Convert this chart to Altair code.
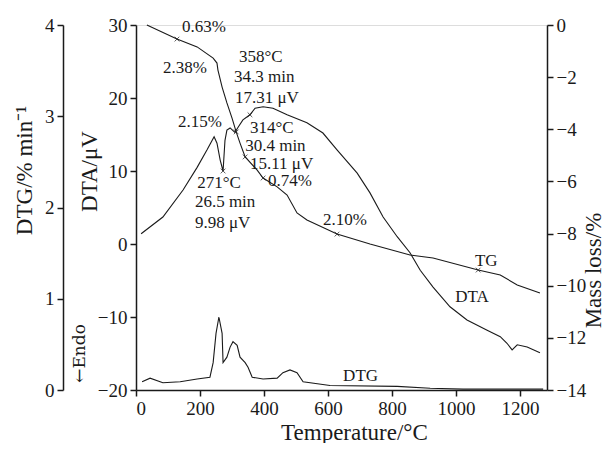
import altair as alt
import pandas as pd

# ---- data ----
tg_T = [34, 128, 191, 241, 253, 256, 269, 284, 300, 313, 325, 341, 378, 397, 441, 472, 503, 534, 628, 731, 856, 928, 1069, 1138, 1191, 1262]
tg_v = [0.0, -0.54, -0.84, -1.27, -1.46, -1.73, -2.38, -2.99, -3.57, -4.10, -4.53, -5.06, -5.56, -5.87, -6.21, -6.52, -7.21, -7.48, -8.02, -8.40, -8.82, -8.94, -9.40, -9.59, -9.97, -10.28]

dta_T = [16, 84, 147, 191, 222, 244, 253, 263, 272, 278, 284, 294, 309, 319, 334, 356, 372, 397, 428, 472, 534, 584, 628, 691, 731, 772, 816, 856, 888, 928, 981, 1034, 1097, 1138, 1159, 1175, 1191, 1222, 1262]
dta_v = [1.4, 3.7, 7.4, 10.5, 12.9, 14.7, 13.8, 11.5, 10.0, 14.2, 15.6, 15.9, 15.3, 16.0, 17.0, 17.7, 18.6, 18.8, 18.6, 17.7, 16.6, 15.2, 12.9, 9.7, 7.0, 3.7, 1.0, -1.2, -3.6, -5.9, -8.6, -10.4, -11.8, -12.7, -13.6, -14.5, -13.8, -14.1, -14.9]

dtg_T = [19, 44, 84, 138, 191, 231, 241, 250, 259, 269, 272, 284, 294, 303, 316, 325, 341, 350, 363, 397, 441, 459, 481, 503, 522, 606, 816, 919, 1022, 1272]
dtg_v = [0.09, 0.13, 0.08, 0.09, 0.12, 0.14, 0.30, 0.62, 0.80, 0.62, 0.30, 0.36, 0.47, 0.53, 0.49, 0.36, 0.30, 0.25, 0.14, 0.12, 0.13, 0.19, 0.22, 0.19, 0.09, 0.05, 0.04, 0.02, 0.01, 0.01]

tg_mark_T = [128, 313, 341, 397, 628, 1069]
tg_mark_v = [-0.54, -4.10, -5.06, -5.87, -8.02, -9.40]
dta_mark_T = [272, 356]
dta_mark_v = [10.0, 17.7]

ann_text = ["0.63%", "2.38%", "358°C", "34.3 min", "17.31 μV", "2.15%", "314°C", "30.4 min",
            "15.11 μV", "0.74%", "271°C", "26.5 min", "9.98 μV", "2.10%", "TG", "DTA", "DTG"]
ann_T = [144, 84, 322, 306, 309, 131, 356, 341, 356, 412, 191, 184, 184, 584, 1059, 997, 647]
ann_v = [29.7, 24.1, 25.6, 22.9, 20.0, 16.7, 15.9, 13.4, 11.0, 8.6, 8.4, 5.8, 2.9, 3.3, -2.3, -7.3, -18.1]

endo_text = ["←Endo"]
endo_T = [-175]
endo_v = [-15.0]

FONT = "Liberation Serif"
INK = "#1a1a1a"

tg_df = pd.DataFrame({"T": tg_T, "v": tg_v})
dta_df = pd.DataFrame({"T": dta_T, "v": dta_v})
dtg_df = pd.DataFrame({"T": dtg_T, "v": dtg_v})
tgm_df = pd.DataFrame({"T": tg_mark_T, "v": tg_mark_v})
dtam_df = pd.DataFrame({"T": dta_mark_T, "v": dta_mark_v})
ann_df = pd.DataFrame({"T": ann_T, "v": ann_v, "t": ann_text})
endo_df = pd.DataFrame({"T": endo_T, "v": endo_v, "t": endo_text})

xscale = alt.Scale(domain=[0, 1284], nice=False, zero=False)
dta_scale = alt.Scale(domain=[-20, 30], nice=False, zero=False)
tg_scale = alt.Scale(domain=[-14, 0], nice=False, zero=False)
dtg_scale = alt.Scale(domain=[0, 4], nice=False, zero=False)

axis_common = dict(labelFont=FONT, titleFont=FONT, labelFontSize=19, titleFontSize=23,
                   labelColor=INK, titleColor=INK, domainColor=INK, tickColor=INK,
                   domainWidth=1.5, tickWidth=1.5, tickSize=6, ticks=True, domain=True, grid=False,
                   titleFontWeight="normal", labelPadding=3, format="d")

x_axis = alt.Axis(values=[0, 200, 400, 600, 800, 1000, 1200], title="Temperature/°C",
                  titleX=218, titleY=49, titleBaseline="alphabetic", **axis_common)
x_enc = alt.X("T:Q", scale=xscale, axis=x_axis)

dta_line = alt.Chart(dta_df).mark_line(color=INK, strokeWidth=1.1).encode(
    x=x_enc,
    y=alt.Y("v:Q", scale=dta_scale,
            axis=alt.Axis(orient="left", values=[-20, -10, 0, 10, 20, 30], title="DTA/μV",
                          titleAngle=270, titleX=-40, titleY=146, titleAlign="center",
                          titleBaseline="alphabetic", **axis_common)),
)

dtg_line = alt.Chart(dtg_df).mark_line(color=INK, strokeWidth=1.1).encode(
    x=x_enc,
    y=alt.Y("v:Q", scale=dtg_scale,
            axis=alt.Axis(orient="left", offset=73, values=[0, 1, 2, 3, 4], title="DTG/% min⁻¹",
                          titleAngle=270, titleX=-32, titleY=145, titleAlign="center",
                          titleBaseline="alphabetic", **axis_common)),
)

tg_line = alt.Chart(tg_df).mark_line(color=INK, strokeWidth=1.1).encode(
    x=x_enc,
    y=alt.Y("v:Q", scale=tg_scale,
            axis=alt.Axis(orient="right", values=[0, -2, -4, -6, -8, -10, -12, -14], title="Mass loss/%",
                          titleAngle=270, titleX=53, titleY=245, titleAlign="center",
                          titleBaseline="alphabetic", **axis_common)),
)

xshape = "M-1,-1L1,1M-1,1L1,-1"
tg_marks = alt.Chart(tgm_df).mark_point(shape=xshape, size=22, filled=False, color=INK, strokeWidth=1).encode(
    x=x_enc, y=alt.Y("v:Q", scale=tg_scale, axis=None))
dta_marks = alt.Chart(dtam_df).mark_point(shape=xshape, size=22, filled=False, color=INK, strokeWidth=1).encode(
    x=x_enc, y=alt.Y("v:Q", scale=dta_scale, axis=None))

ann = alt.Chart(ann_df).mark_text(font=FONT, fontSize=17, align="left", baseline="middle", color=INK).encode(
    x=x_enc, y=alt.Y("v:Q", scale=dta_scale, axis=None), text="t:N")

endo = alt.Chart(endo_df).mark_text(font="DejaVu Serif", fontSize=17, align="center", baseline="middle",
                                    angle=270, color=INK).encode(
    x=x_enc, y=alt.Y("v:Q", scale=dta_scale, axis=None), text="t:N")

chart = alt.layer(dta_line, dtg_line, tg_line, tg_marks, dta_marks, ann, endo).resolve_scale(
    y="independent"
).properties(
    width=411, height=365,
    autosize=alt.AutoSizeParams(type="none"),
    padding={"left": 128, "top": 17, "right": 58, "bottom": 53},
).configure_view(stroke=None).configure(background="white")

chart.save("out.html", embed_options={"renderer": "svg", "actions": False})
